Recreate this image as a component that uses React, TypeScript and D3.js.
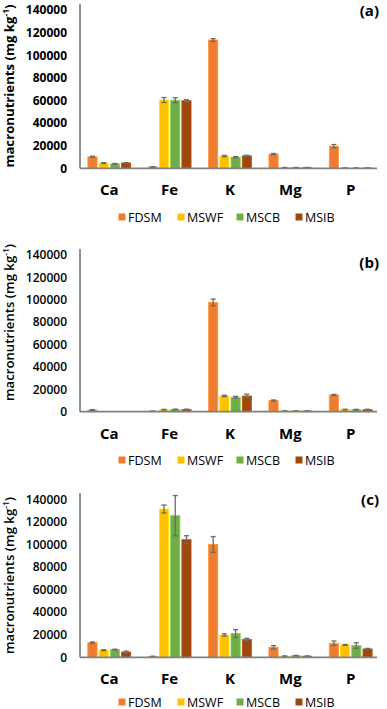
import React from 'react'
import * as d3 from 'd3'

const CATEGORIES = ['Ca', 'Fe', 'K', 'Mg', 'P']
const SERIES = ['FDSM', 'MSWF', 'MSCB', 'MSIB']
const COLORS = ['#ED7D31', '#FFC000', '#70AD47', '#9E480E']
const Y_TICKS = [0, 20000, 40000, 60000, 80000, 100000, 120000, 140000]

// panel (a)
const A_FDSM = [10200, 1200, 113500, 12600, 19500]
const A_MSWF = [4600, 60400, 10800, 600, 200]
const A_MSCB = [3900, 60200, 9800, 600, 200]
const A_MSIB = [4700, 59800, 11000, 600, 200]
const A_ERR_FDSM = [500, 300, 1200, 500, 1500]
const A_ERR_MSWF = [400, 2200, 600, 200, 100]
const A_ERR_MSCB = [400, 2200, 500, 200, 100]
const A_ERR_MSIB = [300, 800, 500, 200, 100]

// panel (b)
const B_FDSM = [1500, 400, 97600, 10000, 15000]
const B_MSWF = [0, 1800, 14100, 600, 1900]
const B_MSCB = [0, 2000, 12900, 600, 1800]
const B_MSIB = [0, 2000, 14000, 600, 1800]
const B_ERR_FDSM = [400, 100, 3000, 500, 500]
const B_ERR_MSWF = [0, 300, 600, 100, 300]
const B_ERR_MSCB = [0, 300, 800, 100, 300]
const B_ERR_MSIB = [0, 300, 1600, 100, 400]

// panel (c)
const C_FDSM = [13000, 800, 100000, 8900, 12400]
const C_MSWF = [6300, 131400, 19800, 1000, 11000]
const C_MSCB = [6800, 125500, 21000, 1400, 10400]
const C_MSIB = [4700, 104200, 15800, 1000, 7400]
const C_ERR_FDSM = [600, 200, 7000, 1500, 2000]
const C_ERR_MSWF = [500, 3500, 1000, 200, 400]
const C_ERR_MSCB = [400, 17800, 3500, 300, 2500]
const C_ERR_MSIB = [800, 3500, 1000, 200, 500]

const FONT = '"Open Sans", sans-serif'

type PanelProps = {
  tag: string
  values: number[][]
  errors: number[][]
  top: number
  base: number
  tagY: number
  titleY: number
  legendY: number
  weight: number
}

function Panel({ tag, values, errors, top, base, tagY, titleY, legendY, weight }: PanelProps) {
  const x0 = d3.scaleBand<string>().domain(CATEGORIES).range([80, 380])
    .paddingInner(0.29).paddingOuter(0.13)
  const x1 = d3.scaleBand<string>().domain(SERIES).range([0, x0.bandwidth()])
    .paddingInner(0.18)
  const y = d3.scaleLinear().domain([0, 140000]).range([base, top])
  const legendX = d3.scalePoint<string>().domain(SERIES).range([122, 299])
  const cap = 2.5

  return (
    <g>
      {/* y tick labels */}
      {Y_TICKS.map(t => (
        <text key={t} x={67} y={y(t)} dy="0.36em" textAnchor="end"
          fontSize={12} fontWeight={weight} fill="#000">{t}</text>
      ))}
      {/* y title */}
      <text transform={`translate(14,${titleY}) rotate(-90)`} textAnchor="middle"
        fontSize={13.2} fontWeight={weight} fill="#000">
        macronutrients (mg kg<tspan dy={-5} fontSize={8.5}>-1</tspan><tspan dy={5}>)</tspan>
      </text>

      {/* bars */}
      {SERIES.map((s, si) => CATEGORIES.map((c, ci) => {
        const v = values[si][ci]
        if (v <= 0) return null
        const bx = (x0(c) ?? 0) + (x1(s) ?? 0)
        const col = COLORS[si]
        return (
          <rect key={s + c} x={bx} y={y(v)} width={x1.bandwidth()} height={base - y(v)}
            fill={col} stroke={d3.color(col)!.brighter(0.5).formatHex()} strokeWidth={0.8} />
        )
      }))}

      {/* error bars */}
      {SERIES.map((s, si) => CATEGORIES.map((c, ci) => {
        const v = values[si][ci]
        const e = errors[si][ci]
        if (v <= 0) return null
        const cx = (x0(c) ?? 0) + (x1(s) ?? 0) + x1.bandwidth() / 2
        return (
          <g key={'e' + s + c} stroke="#6b6b6b" strokeWidth={1.3}>
            <line x1={cx} x2={cx} y1={y(v + e)} y2={y(Math.max(0, v - e))} />
            <line x1={cx - cap} x2={cx + cap} y1={y(v + e)} y2={y(v + e)} />
            <line x1={cx - cap} x2={cx + cap} y1={y(Math.max(0, v - e))} y2={y(Math.max(0, v - e))} />
          </g>
        )
      }))}

      {/* axes */}
      <line x1={80} x2={80} y1={top - 6} y2={base} stroke="#222" strokeWidth={1} />
      <line x1={80} x2={377} y1={base} y2={base} stroke="#808080" strokeWidth={1.8} />

      {/* category labels */}
      {CATEGORIES.map(c => (
        <text key={c} x={(x0(c) ?? 0) + x0.bandwidth() / 2} y={base + 27} textAnchor="middle"
          fontSize={15} fontWeight={700} fill="#000">{c}</text>
      ))}

      {/* panel tag */}
      <text x={379} y={tagY} textAnchor="end" fontSize={15} fontWeight={700} fill="#000">{tag}</text>

      {/* legend */}
      {SERIES.map((s, si) => (
        <g key={'l' + s}>
          <rect x={(legendX(s) ?? 0) - 3.5} y={legendY - 3.5} width={7} height={7} fill={COLORS[si]} />
          <text x={(legendX(s) ?? 0) + 6} y={legendY} dy="0.36em" fontSize={12.5} fill="#000">{s}</text>
        </g>
      ))}
    </g>
  )
}

export default function App() {
  return (
    <div style={{ position: 'absolute', left: 0, top: 0 }}>
      <svg width={387} height={709} style={{ display: 'block', background: '#fff' }} fontFamily={FONT}>
        <Panel tag="(a)" top={10} base={168.3} tagY={16} titleY={86} legendY={217} weight={700}
          values={[A_FDSM, A_MSWF, A_MSCB, A_MSIB]}
          errors={[A_ERR_FDSM, A_ERR_MSWF, A_ERR_MSCB, A_ERR_MSIB]} />
        <Panel tag="(b)" top={255} base={411.7} tagY={268} titleY={322.5} legendY={460} weight={600}
          values={[B_FDSM, B_MSWF, B_MSCB, B_MSIB]}
          errors={[B_ERR_FDSM, B_ERR_MSWF, B_ERR_MSCB, B_ERR_MSIB]} />
        <Panel tag="(c)" top={499.3} base={657.3} tagY={505} titleY={575.5} legendY={702} weight={600}
          values={[C_FDSM, C_MSWF, C_MSCB, C_MSIB]}
          errors={[C_ERR_FDSM, C_ERR_MSWF, C_ERR_MSCB, C_ERR_MSIB]} />
      </svg>
    </div>
  )
}
